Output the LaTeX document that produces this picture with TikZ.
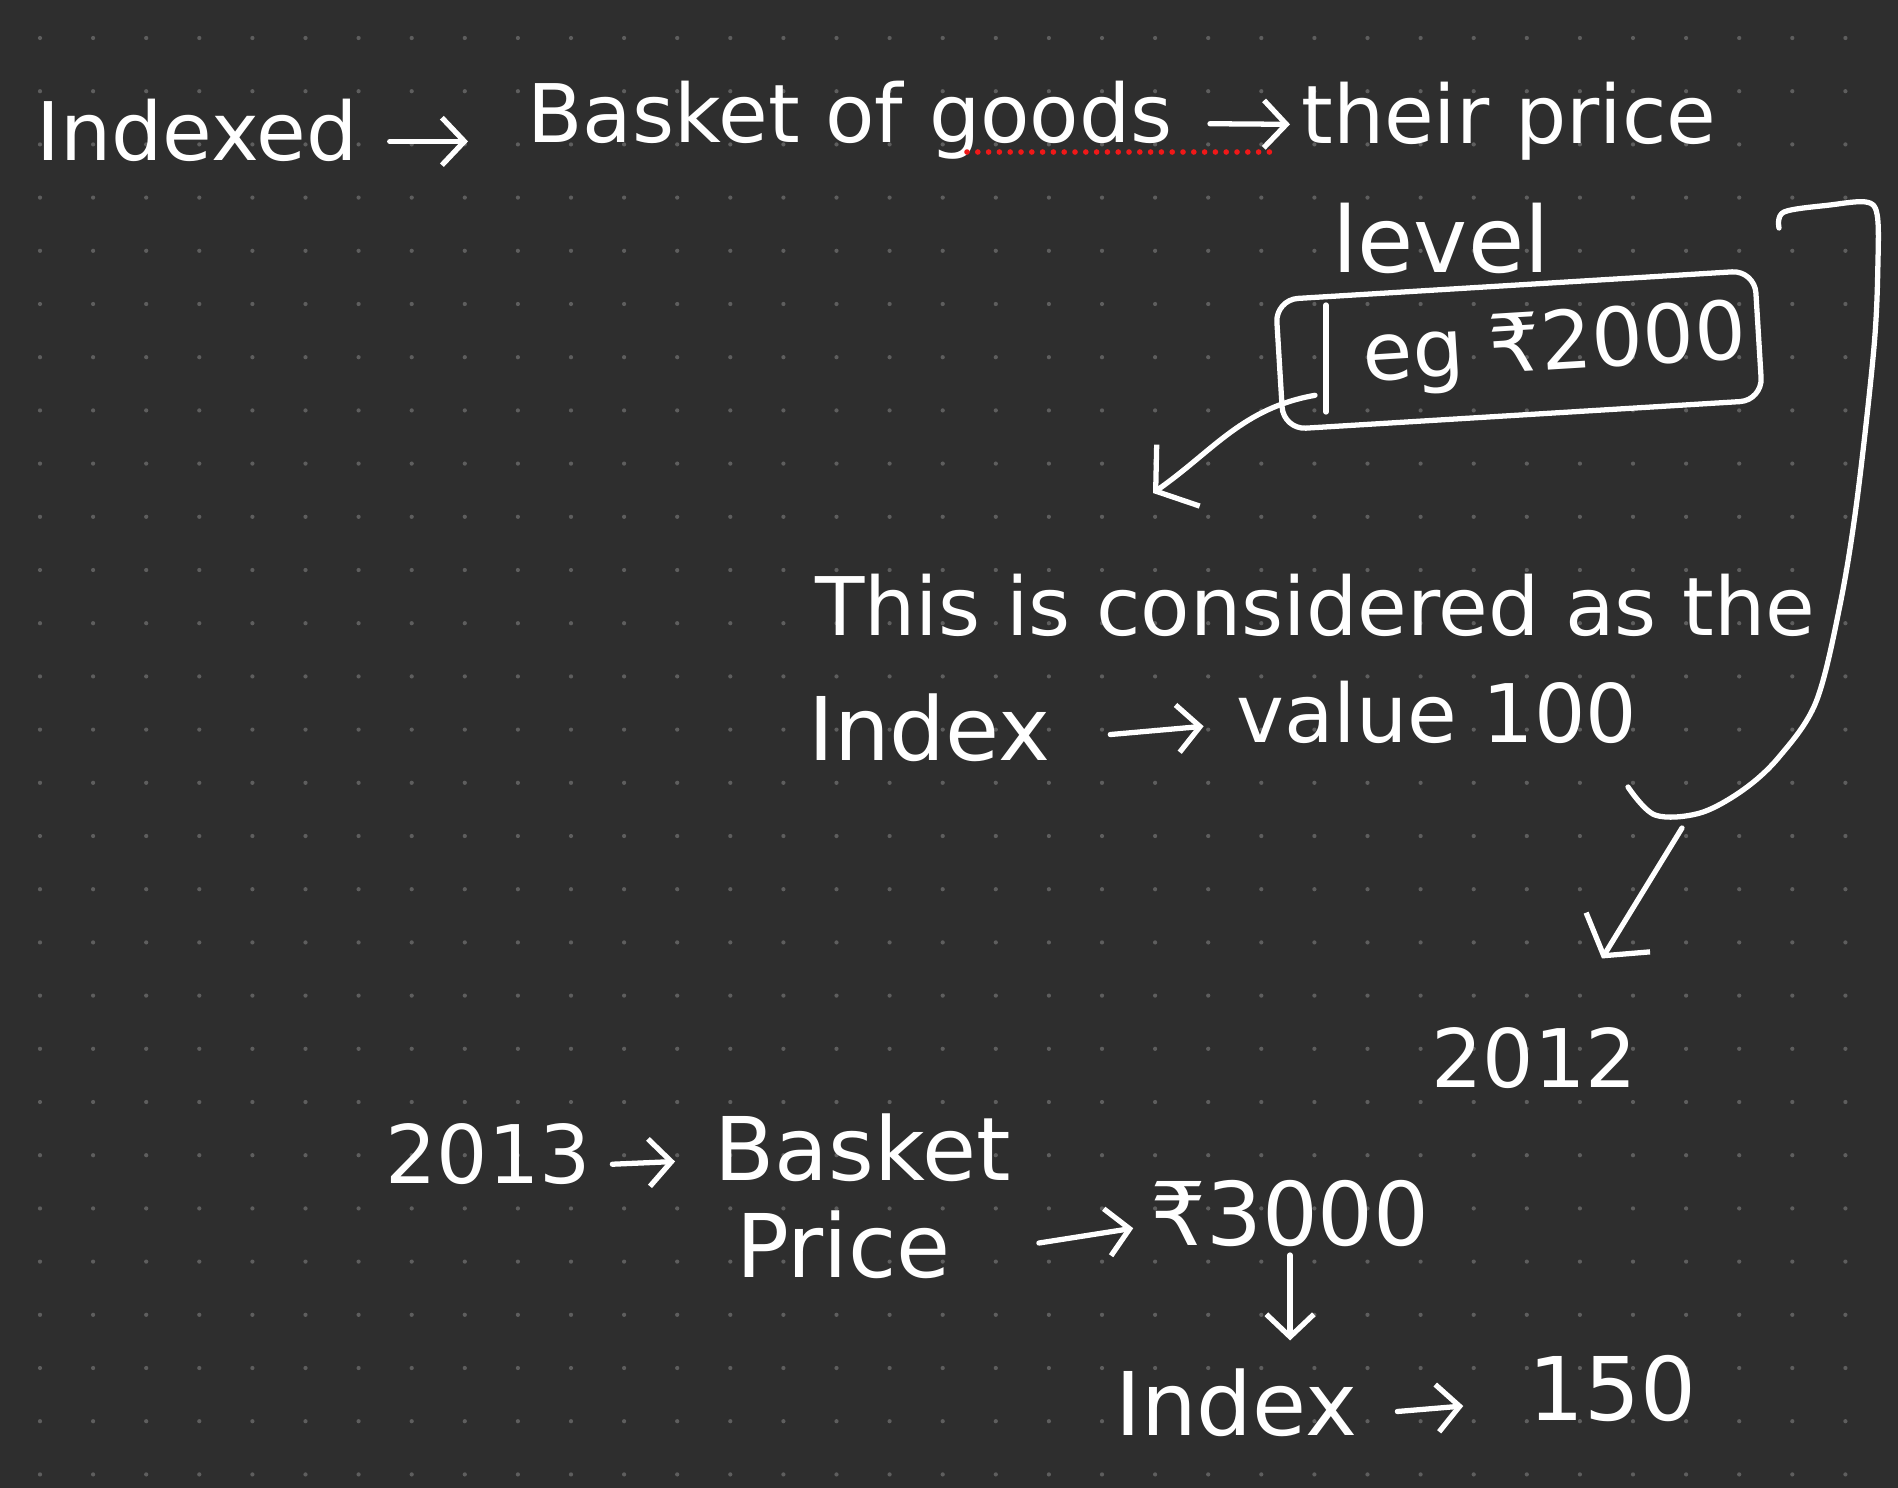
\documentclass[tikz,border=0pt]{standalone}
\usepackage{fontspec}
\setmainfont{DejaVu Sans}
\usepackage{xcolor}
\usetikzlibrary{arrows.meta, calc}
\definecolor{boardbg}{HTML}{2E2E2E}
\definecolor{griddot}{HTML}{5E5E5E}
\definecolor{inkred}{HTML}{F01818}

\begin{document}
\begin{tikzpicture}[x=0.02cm, y=-0.02cm,
  ink/.style={white, line width=3pt, line cap=round, line join=round},
  hand/.style={white, inner sep=0pt, anchor=base west,
    font=\fontsize{#1}{#1}\selectfont, execute at begin node=\strut},
  hand/.default=46,
  tarr/.style={ink, -{Straight Barb[length=0.45cm, width=0.95cm]}},
  uarr/.style={ink, -{Straight Barb[length=0.55cm, width=1.5cm]}}]
  % Board and dot grid
  \fill[boardbg] (0,0) rectangle (1898,1488);
  \useasboundingbox (0,0) rectangle (1898,1488);
  \foreach \i in {0,...,34} {
    \foreach \j in {0,...,27} {
      \fill[griddot] (40+53.1*\i, 38+53.2*\j) circle (1.2pt);
    }
  }
  % Top line
  \node[hand] (idx) at (36,160) {Indexed};
  \node[hand] (basket) at (527,142) {Basket of goods};
  \node[hand] (price) at (1301,143) {their price};
  \node[hand=52] (level) at (1332,272) {level};
  \draw[tarr, shorten <=0.64cm, shorten >=1.18cm] (idx.east) -- (idx.east -| basket.west);
  \draw[tarr, shorten <=0.74cm, shorten >=0.22cm] (basket.east) -- (price.west);
  % Spell-check underline
  \foreach \k in {0,...,28} {
    \fill[inkred] (967+10.8*\k, 152) circle (1.6pt);
  }
  % Boxed example
  \node[ink, draw, rounded corners=0.45cm, rotate=3.5,
    minimum width=9.6cm, minimum height=2.6cm] (box) at (1519,350) {};
  \draw[ink] (1326,305) -- (1326,412);
  \node[hand, anchor=center, rotate=3.5] (eg) at (1555,352) {eg ₹2000};
  \coordinate (egtip) at (1153,493);
  \draw[uarr] ($(box.south west)+(34,-37)$) to[out=190, in=35] (egtip);
  % Base year note
  \node[hand] (consid) at (815,635) {This is considered as the};
  \node[hand=50] (idx2) at (808,760) {Index};
  \node[hand] (val) at (1236,742) {value 100};
  \draw[tarr, shorten <=1.2cm, shorten >=0.65cm] (idx2.east) -- (val.west);
  % Bracket down to 2012
  \draw[ink] plot[smooth, tension=0.55] coordinates {(1779,228) (1784,212)
    (1830,205) (1866,202) (1877,214) (1878,260) (1874,347) (1857,500)
    (1840,605) (1816,702) (1779,757) (1743,790) (1700,813) (1655,815) (1628,787)};
  \coordinate (brk) at (1682,828);
  \node[hand] (y12) at (1431,1087) {2012};
  \draw[uarr, shorten >=1.6cm] (brk) -- (y12);
  % 2013 example
  \node[hand] (y13) at (385,1183) {2013};
  \node[hand=50] (basket2) at (714,1180) {Basket};
  \node[hand=50] (price2) at (736,1277) {Price};
  \node[hand=50] (p3000) at (1150,1245) {₹3000};
  \node[hand=50] (idx3) at (1115,1435) {Index};
  \node[hand=50] (v150) at (1528,1420) {150};
  \draw[tarr, shorten <=0.42cm, shorten >=0.78cm] (y13.east) -- (basket2.west);
  \draw[tarr, shorten <=1.78cm, shorten >=0.34cm] (price2.east) -- (p3000.west);
  \draw[tarr, shorten <=0.2cm, shorten >=0.55cm] (p3000.base) -- (p3000.base |- idx3.north);
  \draw[tarr, shorten <=0.8cm, shorten >=1.3cm] (idx3.east) -- (v150.west);
\end{tikzpicture}
\end{document}
